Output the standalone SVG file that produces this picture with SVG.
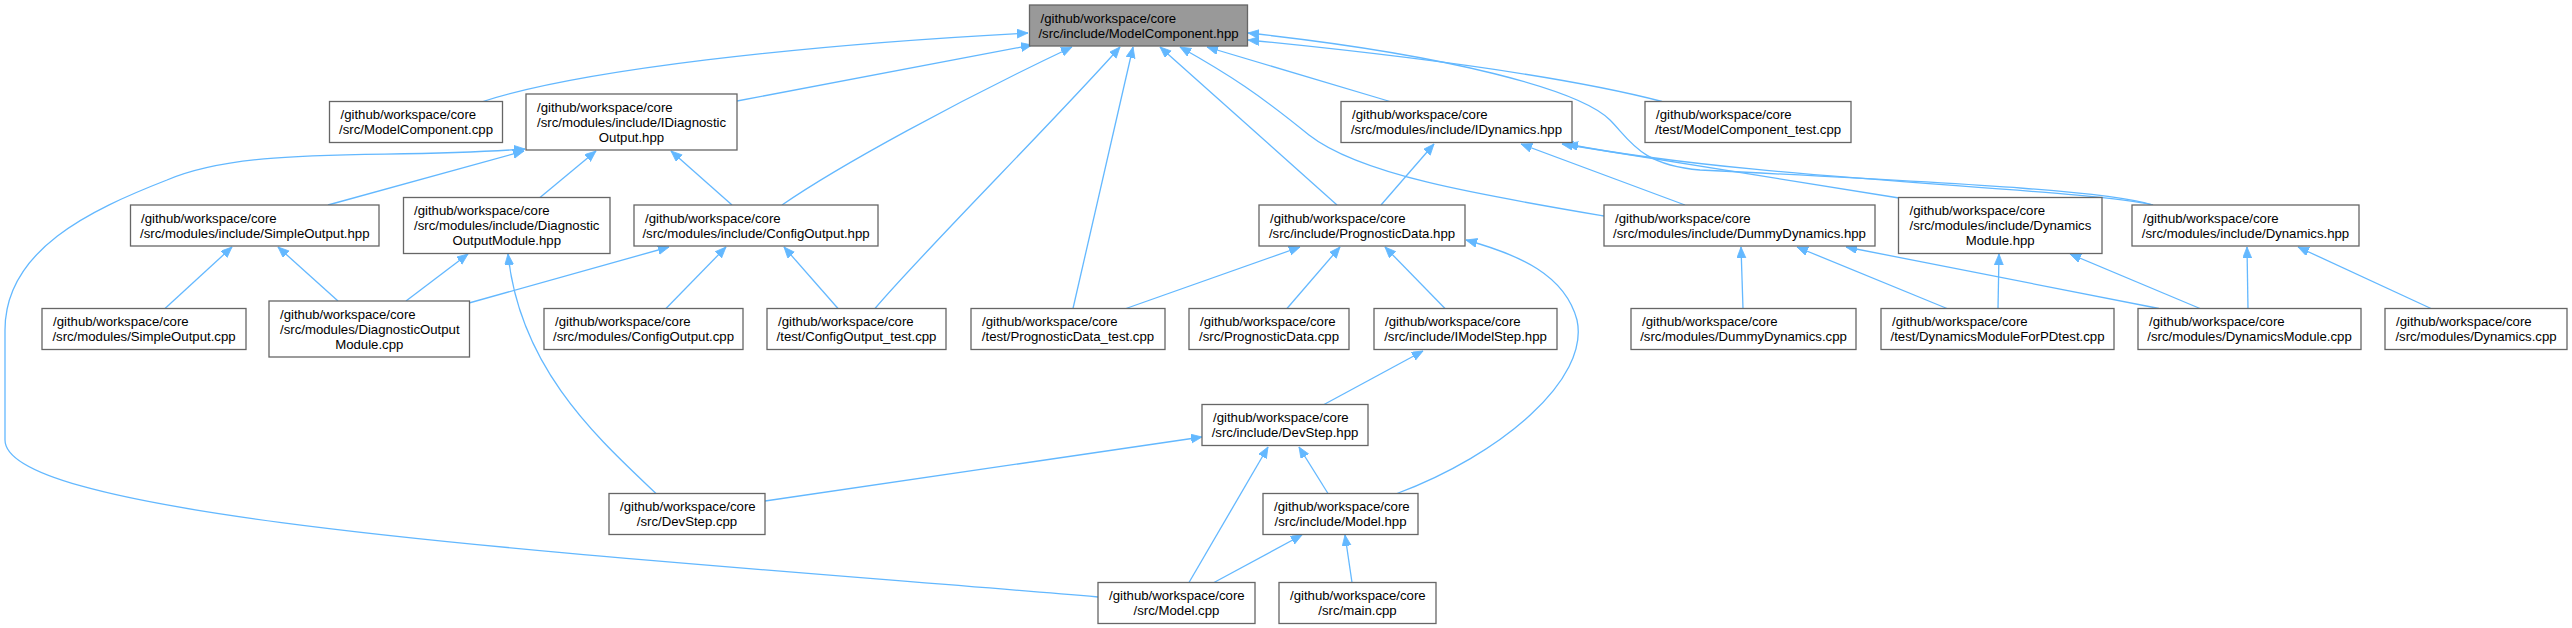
<svg xmlns="http://www.w3.org/2000/svg" width="2572" height="628" viewBox="0 0 2572 628">
<defs>
<style>
.n rect{fill:#ffffff;stroke:#666666;stroke-width:1.3}
.n.root rect{fill:#999999}
.n text{font-family:"Liberation Sans",Arial,Helvetica,sans-serif;font-size:13.2px;fill:#000000}
.n text.c{text-anchor:middle}
#edges path{fill:none;stroke:#63b8ff;stroke-width:1.3;marker-end:url(#ah)}
</style>
<marker id="ah" markerUnits="userSpaceOnUse" markerWidth="12" markerHeight="10" refX="11" refY="4.5" orient="auto">
<path d="M0,0 L11,4.5 L0,9 Z" fill="#63b8ff" stroke="#63b8ff" stroke-width="0.8"/>
</marker>
</defs>
<rect x="0" y="0" width="2572" height="628" fill="#ffffff"/>
<g id="edges">
<path d="M483,101.5 C580,70 800,45 1028,33"/>
<path d="M737,101 L1032,45"/>
<path d="M782,205 C840,165 960,100 1072,47"/>
<path d="M875,308.5 C920,255 1060,115 1120,47"/>
<path d="M1073,308.5 L1133,47"/>
<path d="M1337,205 L1160,47"/>
<path d="M1604,216 C1480,195 1360,175 1309,135 C1260,95 1230,75 1180,47"/>
<path d="M1390,101.5 L1207,47"/>
<path d="M1662,101.5 C1560,75 1400,55 1248,40"/>
<path d="M2153,205 C2110,192 2000,185 1700,170 C1640,165 1630,140 1610,120 C1580,90 1450,55 1248,33"/>
<path d="M1381,205 L1434,144"/>
<path d="M1685,205 L1521,144"/>
<path d="M1899,198 L1562,144"/>
<path d="M2153,205 C2080,188 1750,180 1567,144"/>
<path d="M328,205 L524,151"/>
<path d="M1098,597 C600,555 5,520 5,440 L5,330 C5,250 90,210 167,180 C250,145 380,160 525,149"/>
<path d="M540,197.5 L596,151"/>
<path d="M732,205 L671,151"/>
<path d="M165,308.5 L232,247"/>
<path d="M338,301 L278,247"/>
<path d="M406,301 L468,254"/>
<path d="M656,493.5 C600,440 520,370 508,254"/>
<path d="M469,303 L669,247"/>
<path d="M666,308.5 L726,247"/>
<path d="M838,308.5 L784,247"/>
<path d="M1126,308.5 L1300,247"/>
<path d="M1287,308.5 L1340,247"/>
<path d="M1445,308.5 L1385,247"/>
<path d="M1397,493.5 C1500,455 1590,380 1577,320 C1565,275 1520,255 1466,240"/>
<path d="M1324,404.5 L1423,351"/>
<path d="M765,501 L1202,437"/>
<path d="M1189,582.5 L1268,447"/>
<path d="M1328,493.5 L1299,447"/>
<path d="M1214,582.5 L1302,535"/>
<path d="M1352,582.5 L1345,535"/>
<path d="M1743,308.5 L1741,247"/>
<path d="M1947,308.5 L1797,247"/>
<path d="M2159,308.5 L1846,247"/>
<path d="M1998,308.5 L1999,254"/>
<path d="M2200,308.5 L2070,254"/>
<path d="M2248,308.5 L2247,247"/>
<path d="M2431,308.5 L2298,247"/>
</g>
<g id="n_ModelComponent_hpp" class="n root"><rect x="1029.5" y="5" width="218" height="41"/><text x="1040.5" y="22.5">/github/workspace/core</text><text class="c" x="1138.5" y="37.5">/src/include/ModelComponent.hpp</text></g>
<g id="n_ModelComponent_cpp" class="n"><rect x="329.5" y="101.5" width="173" height="41"/><text x="340.5" y="119">/github/workspace/core</text><text class="c" x="416" y="134">/src/ModelComponent.cpp</text></g>
<g id="n_IDiagnosticOutput_hpp" class="n"><rect x="526" y="94" width="211" height="56"/><text x="537" y="111.5">/github/workspace/core</text><text x="537" y="126.5">/src/modules/include/IDiagnostic</text><text class="c" x="631.5" y="141.5">Output.hpp</text></g>
<g id="n_IDynamics_hpp" class="n"><rect x="1341" y="101.5" width="231" height="41"/><text x="1352" y="119">/github/workspace/core</text><text class="c" x="1456.5" y="134">/src/modules/include/IDynamics.hpp</text></g>
<g id="n_ModelComponent_test_cpp" class="n"><rect x="1645" y="101.5" width="206" height="41"/><text x="1656" y="119">/github/workspace/core</text><text class="c" x="1748" y="134">/test/ModelComponent_test.cpp</text></g>
<g id="n_SimpleOutput_hpp" class="n"><rect x="130.5" y="205" width="248.5" height="41"/><text x="141" y="222.5">/github/workspace/core</text><text class="c" x="254.75" y="237.5">/src/modules/include/SimpleOutput.hpp</text></g>
<g id="n_DiagnosticOutputModule_hpp" class="n"><rect x="403.5" y="197.5" width="206.5" height="56"/><text x="414" y="215">/github/workspace/core</text><text x="414" y="230">/src/modules/include/Diagnostic</text><text class="c" x="506.75" y="245">OutputModule.hpp</text></g>
<g id="n_ConfigOutput_hpp" class="n"><rect x="634" y="205" width="244" height="41"/><text x="645" y="222.5">/github/workspace/core</text><text class="c" x="756" y="237.5">/src/modules/include/ConfigOutput.hpp</text></g>
<g id="n_PrognosticData_hpp" class="n"><rect x="1259" y="205" width="206" height="41"/><text x="1270" y="222.5">/github/workspace/core</text><text class="c" x="1362" y="237.5">/src/include/PrognosticData.hpp</text></g>
<g id="n_DummyDynamics_hpp" class="n"><rect x="1604" y="205" width="271" height="41"/><text x="1615" y="222.5">/github/workspace/core</text><text class="c" x="1739.5" y="237.5">/src/modules/include/DummyDynamics.hpp</text></g>
<g id="n_DynamicsModule_hpp" class="n"><rect x="1898.5" y="197.5" width="203.5" height="56"/><text x="1909.5" y="215">/github/workspace/core</text><text x="1909.5" y="230">/src/modules/include/Dynamics</text><text class="c" x="2000.25" y="245">Module.hpp</text></g>
<g id="n_Dynamics_hpp" class="n"><rect x="2132" y="205" width="227" height="41"/><text x="2143" y="222.5">/github/workspace/core</text><text class="c" x="2245.5" y="237.5">/src/modules/include/Dynamics.hpp</text></g>
<g id="n_SimpleOutput_cpp" class="n"><rect x="42" y="308.5" width="204" height="41"/><text x="53" y="326">/github/workspace/core</text><text class="c" x="144" y="341">/src/modules/SimpleOutput.cpp</text></g>
<g id="n_DiagnosticOutputModule_cpp" class="n"><rect x="269" y="301" width="200.5" height="56"/><text x="280" y="318.5">/github/workspace/core</text><text x="280" y="333.5">/src/modules/DiagnosticOutput</text><text class="c" x="369.25" y="348.5">Module.cpp</text></g>
<g id="n_ConfigOutput_cpp" class="n"><rect x="544" y="308.5" width="199" height="41"/><text x="555" y="326">/github/workspace/core</text><text class="c" x="643.5" y="341">/src/modules/ConfigOutput.cpp</text></g>
<g id="n_ConfigOutput_test_cpp" class="n"><rect x="767" y="308.5" width="179" height="41"/><text x="778" y="326">/github/workspace/core</text><text class="c" x="856.5" y="341">/test/ConfigOutput_test.cpp</text></g>
<g id="n_PrognosticData_test_cpp" class="n"><rect x="971" y="308.5" width="194" height="41"/><text x="982" y="326">/github/workspace/core</text><text class="c" x="1068" y="341">/test/PrognosticData_test.cpp</text></g>
<g id="n_PrognosticData_cpp" class="n"><rect x="1189" y="308.5" width="160" height="41"/><text x="1200" y="326">/github/workspace/core</text><text class="c" x="1269" y="341">/src/PrognosticData.cpp</text></g>
<g id="n_IModelStep_hpp" class="n"><rect x="1374" y="308.5" width="183" height="41"/><text x="1385" y="326">/github/workspace/core</text><text class="c" x="1465.5" y="341">/src/include/IModelStep.hpp</text></g>
<g id="n_DummyDynamics_cpp" class="n"><rect x="1631" y="308.5" width="225" height="41"/><text x="1642" y="326">/github/workspace/core</text><text class="c" x="1743.5" y="341">/src/modules/DummyDynamics.cpp</text></g>
<g id="n_DynamicsModuleForPDtest_cpp" class="n"><rect x="1881" y="308.5" width="233" height="41"/><text x="1892" y="326">/github/workspace/core</text><text class="c" x="1997.5" y="341">/test/DynamicsModuleForPDtest.cpp</text></g>
<g id="n_DynamicsModule_cpp" class="n"><rect x="2138" y="308.5" width="223" height="41"/><text x="2149" y="326">/github/workspace/core</text><text class="c" x="2249.5" y="341">/src/modules/DynamicsModule.cpp</text></g>
<g id="n_Dynamics_cpp" class="n"><rect x="2385" y="308.5" width="182" height="41"/><text x="2396" y="326">/github/workspace/core</text><text class="c" x="2476" y="341">/src/modules/Dynamics.cpp</text></g>
<g id="n_DevStep_hpp" class="n"><rect x="1202" y="404.5" width="166" height="41"/><text x="1213" y="422">/github/workspace/core</text><text class="c" x="1285" y="437">/src/include/DevStep.hpp</text></g>
<g id="n_DevStep_cpp" class="n"><rect x="609" y="493.5" width="156" height="41"/><text x="620" y="511">/github/workspace/core</text><text class="c" x="687" y="526">/src/DevStep.cpp</text></g>
<g id="n_Model_hpp" class="n"><rect x="1263" y="493.5" width="155" height="41"/><text x="1274" y="511">/github/workspace/core</text><text class="c" x="1340.5" y="526">/src/include/Model.hpp</text></g>
<g id="n_Model_cpp" class="n"><rect x="1098" y="582.5" width="157" height="41"/><text x="1109" y="600">/github/workspace/core</text><text class="c" x="1176.5" y="615">/src/Model.cpp</text></g>
<g id="n_main_cpp" class="n"><rect x="1279" y="582.5" width="157" height="41"/><text x="1290" y="600">/github/workspace/core</text><text class="c" x="1357.5" y="615">/src/main.cpp</text></g>
</svg>
